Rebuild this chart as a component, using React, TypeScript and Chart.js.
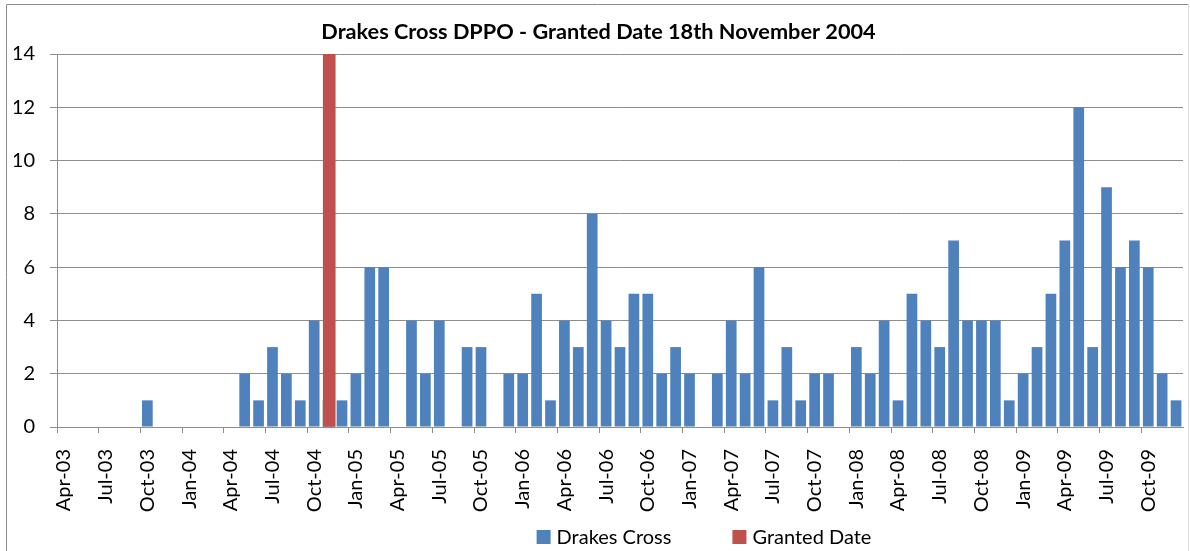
import React, { useEffect, useRef } from 'react';
import { Chart, registerables } from 'chart.js';

Chart.register(...registerables);

const TITLE = 'Drakes Cross DPPO - Granted Date 18th November 2004';

const CATEGORIES = [
  'Apr-03', 'May-03', 'Jun-03', 'Jul-03', 'Aug-03', 'Sep-03', 'Oct-03', 'Nov-03', 'Dec-03',
  'Jan-04', 'Feb-04', 'Mar-04', 'Apr-04', 'May-04', 'Jun-04', 'Jul-04', 'Aug-04', 'Sep-04', 'Oct-04', 'Nov-04', 'Dec-04',
  'Jan-05', 'Feb-05', 'Mar-05', 'Apr-05', 'May-05', 'Jun-05', 'Jul-05', 'Aug-05', 'Sep-05', 'Oct-05', 'Nov-05', 'Dec-05',
  'Jan-06', 'Feb-06', 'Mar-06', 'Apr-06', 'May-06', 'Jun-06', 'Jul-06', 'Aug-06', 'Sep-06', 'Oct-06', 'Nov-06', 'Dec-06',
  'Jan-07', 'Feb-07', 'Mar-07', 'Apr-07', 'May-07', 'Jun-07', 'Jul-07', 'Aug-07', 'Sep-07', 'Oct-07', 'Nov-07', 'Dec-07',
  'Jan-08', 'Feb-08', 'Mar-08', 'Apr-08', 'May-08', 'Jun-08', 'Jul-08', 'Aug-08', 'Sep-08', 'Oct-08', 'Nov-08', 'Dec-08',
  'Jan-09', 'Feb-09', 'Mar-09', 'Apr-09', 'May-09', 'Jun-09', 'Jul-09', 'Aug-09', 'Sep-09', 'Oct-09', 'Nov-09', 'Dec-09',
];

const DRAKES_CROSS = [
  0, 0, 0, 0, 0, 0, 1, 0, 0,
  0, 0, 0, 0, 2, 1, 3, 2, 1, 4, 1, 1,
  2, 6, 6, 0, 4, 2, 4, 0, 3, 3, 0, 2,
  2, 5, 1, 4, 3, 8, 4, 3, 5, 5, 2, 3,
  2, 0, 2, 4, 2, 6, 1, 3, 1, 2, 2, 0,
  3, 2, 4, 1, 5, 4, 3, 7, 4, 4, 4, 1,
  2, 3, 5, 7, 12, 3, 9, 6, 7, 6, 2, 1,
];

const GRANTED_MONTH = 'Nov-04';
const GRANTED_DAY = 18;
const GRANTED_VALUE = [14];

const Y_MIN = 0;
const Y_MAX = 14;
const Y_STEP = 2;

const SERIES_NAMES = ['Drakes Cross', 'Granted Date'];
const BLUE = '#4F81BD';
const RED = '#C0504D';
const GRID = '#8e8e8e';
const FONT = 'Lato, "Open Sans", sans-serif';

export default function App() {
  const ref = useRef<HTMLCanvasElement | null>(null);

  useEffect(() => {
    if (!ref.current) return;
    const monthIdx = CATEGORIES.indexOf(GRANTED_MONTH);
    const grantedPos = monthIdx - 0.5 + (GRANTED_DAY - 0.5) / 30;

    const borderPlugin = {
      id: 'outerBorder',
      beforeDraw(chart: any) {
        const c = chart.ctx;
        c.save();
        c.fillStyle = '#ffffff';
        c.fillRect(0, 0, chart.width, chart.height);
        c.strokeStyle = '#8c8c8c';
        c.lineWidth = 1;
        c.beginPath();
        c.moveTo(6.5, chart.height);
        c.lineTo(6.5, 4.5);
        c.lineTo(1188.5, 4.5);
        c.stroke();
        c.strokeStyle = '#d9d9d9';
        c.beginPath();
        c.moveTo(1188.5, 4.5);
        c.lineTo(1188.5, chart.height);
        c.stroke();
        c.restore();
      },
    };

    const legendPlugin = {
      id: 'customLegend',
      afterDraw(chart: any) {
        const c = chart.ctx;
        c.save();
        c.font = `20px ${FONT}`;
        c.textBaseline = 'middle';
        c.textAlign = 'left';
        const colors = [BLUE, RED];
        const box = 14;
        const gapText = 6;
        const gapItem = 61;
        const widths = SERIES_NAMES.map((t) => c.measureText(t).width);
        let total = 0;
        widths.forEach((w, i) => {
          total += box + gapText + w + (i < widths.length - 1 ? gapItem : 0);
        });
        let x = 704 - total / 2;
        const y = 537;
        SERIES_NAMES.forEach((t, i) => {
          c.fillStyle = colors[i];
          c.fillRect(x, y - box / 2, box, box);
          c.fillStyle = '#000000';
          c.fillText(t, x + box + gapText, y + 1);
          x += box + gapText + widths[i] + gapItem;
        });
        c.restore();
      },
    };

    const chart = new Chart(ref.current, {
      type: 'bar',
      data: {
        labels: CATEGORIES,
        datasets: [
          {
            label: SERIES_NAMES[0],
            data: DRAKES_CROSS,
            backgroundColor: BLUE,
            xAxisID: 'x',
            categoryPercentage: 1,
            barPercentage: 0.77,
            grouped: false,
            order: 2,
          } as any,
          {
            label: SERIES_NAMES[1],
            data: GRANTED_VALUE.map((v) => ({ x: grantedPos, y: v })),
            backgroundColor: RED,
            xAxisID: 'xg',
            barThickness: 12,
            grouped: false,
            order: 1,
          } as any,
        ],
      },
      options: {
        responsive: false,
        animation: false,
        layout: { padding: { left: 14, right: 7, top: 0, bottom: 0 } },
        plugins: {
          legend: { display: false },
          tooltip: { enabled: false },
          title: {
            display: true,
            text: TITLE,
            color: '#000000',
            font: { family: FONT, size: 21.7, weight: 'bold' },
            padding: { top: 19, bottom: 9 },
          },
        },
        scales: {
          x: {
            type: 'category',
            offset: true,
            grid: {
              offset: true,
              drawOnChartArea: false,
              drawTicks: true,
              tickLength: 6,
              color: (ctx: any) => (ctx.index % 3 === 0 ? GRID : 'rgba(0,0,0,0)'),
            },
            border: { display: true, color: GRID },
            ticks: {
              autoSkip: false,
              minRotation: 90,
              maxRotation: 90,
              padding: 16,
              color: '#000000',
              font: { family: FONT, size: 20 },
              callback: (_v: any, i: number) => (i % 3 === 0 ? CATEGORIES[i] : ''),
            },
            afterFit: (scale: any) => {
              scale.height = 124;
              scale.paddingLeft = 0;
              scale.paddingRight = 0;
            },
          },
          xg: {
            type: 'linear',
            display: false,
            min: -0.5,
            max: CATEGORIES.length - 0.5,
            offset: false,
          },
          y: {
            min: Y_MIN,
            max: Y_MAX,
            ticks: {
              stepSize: Y_STEP,
              padding: 15,
              color: '#000000',
              font: { family: FONT, size: 20 },
            },
            grid: { color: GRID, tickLength: 7, drawTicks: true },
            border: { display: true, color: GRID },
            afterFit: (scale: any) => {
              scale.width = 43;
            },
          },
        },
      } as any,
      plugins: [borderPlugin, legendPlugin],
    });
    return () => chart.destroy();
  }, []);

  return (
    <div style={{ position: 'absolute', left: 0, top: 0, width: 1190, height: 551 }}>
      <canvas ref={ref} width={1190} height={551} />
    </div>
  );
}
